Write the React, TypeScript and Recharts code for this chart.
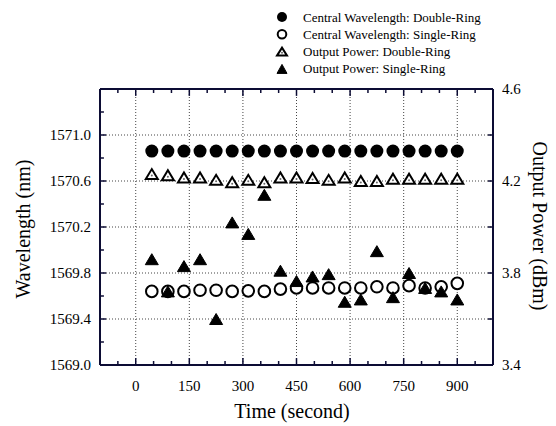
import React from 'react';
import { ComposedChart, Scatter, XAxis, YAxis, ReferenceLine } from 'recharts';

// time stamps (second)
const TIME = [45, 90, 135, 180, 225, 270, 315, 360, 405, 450, 495, 540, 585, 630, 675, 720, 765, 810, 855, 900];

// central wavelength (nm)
const WL_DOUBLE = [1570.86, 1570.86, 1570.86, 1570.86, 1570.86, 1570.86, 1570.86, 1570.86, 1570.86, 1570.86, 1570.86, 1570.86, 1570.86, 1570.86, 1570.86, 1570.86, 1570.86, 1570.86, 1570.86, 1570.86];
const WL_SINGLE = [1569.64, 1569.64, 1569.64, 1569.65, 1569.65, 1569.64, 1569.645, 1569.64, 1569.66, 1569.67, 1569.67, 1569.67, 1569.67, 1569.67, 1569.68, 1569.67, 1569.69, 1569.67, 1569.68, 1569.71];

// output power (dBm)
const PW_DOUBLE = [4.23, 4.225, 4.215, 4.215, 4.205, 4.195, 4.205, 4.195, 4.215, 4.215, 4.213, 4.205, 4.215, 4.2, 4.2, 4.21, 4.21, 4.21, 4.21, 4.21];
const PW_SINGLE = [3.86, 3.72, 3.83, 3.86, 3.6, 4.02, 3.97, 4.14, 3.81, 3.765, 3.785, 3.795, 3.675, 3.685, 3.895, 3.695, 3.8, 3.735, 3.72, 3.685];

// axes
const TIME_DOMAIN = [-100, 1000];
const TIME_TICKS = [-50, 0, 50, 100, 150, 200, 250, 300, 350, 400, 450, 500, 550, 600, 650, 700, 750, 800, 850, 900, 950];
const TIME_LABELS = [0, 150, 300, 450, 600, 750, 900];
const WL_DOMAIN = [1569.0, 1571.4];
const WL_TICKS = [1569.0, 1569.2, 1569.4, 1569.6, 1569.8, 1570.0, 1570.2, 1570.4, 1570.6, 1570.8, 1571.0, 1571.2, 1571.4];
const WL_LABELS = [1569.0, 1569.4, 1569.8, 1570.2, 1570.6, 1571.0];
const PW_DOMAIN = [3.4, 4.6];
const PW_TICKS = [3.4, 3.6, 3.8, 4.0, 4.2, 4.4, 4.6];
const PW_LABELS = [3.4, 3.8, 4.2, 4.6];

// inward tick lengths, in axis units
const XTICK_MAJOR = 0.06;
const XTICK_MINOR = 0.035;
const YTICK_MAJOR = 17;
const YTICK_MINOR = 11;
const RTICK = 14;

const SERIF = '"Liberation Serif", "Times New Roman", serif';
const INK = '#0c0c34';

const toPoints = (vals: number[]) => vals.map((v, i) => ({ t: TIME[i], v }));
const has = (list: number[], v: number) => list.some((l) => Math.abs(l - v) < 1e-6);

// markers
const FilledCircle = ({ cx, cy, r = 6.5 }: any) => <circle cx={cx} cy={cy} r={r} fill="#000" />;
const OpenCircle = ({ cx, cy, r = 5.8 }: any) => (
  <circle cx={cx} cy={cy} r={r} fill="#fff" stroke="#000" strokeWidth={2} />
);
const tri = (cx: number, cy: number, w: number, h: number) =>
  `${cx - w / 2},${cy + h / 2} ${cx + w / 2},${cy + h / 2} ${cx},${cy - h / 2}`;
const OpenTriangle = ({ cx, cy, w = 12, h = 10 }: any) => (
  <g>
    <polygon points={tri(cx, cy, w, h)} fill="#fff" stroke="#000" strokeWidth={2} />
    <circle cx={cx} cy={cy + h * 0.15} r={1} fill="#666" />
  </g>
);
const FilledTriangle = ({ cx, cy, w = 13, h = 11 }: any) => (
  <polygon points={tri(cx, cy, w, h)} fill="#000" stroke="#000" strokeWidth={1} />
);

// tick labels only (tick marks are reference segments below)
const BottomTick = ({ x, y, payload }: any) =>
  has(TIME_LABELS, payload.value) ? (
    <text x={x} y={y + 26} textAnchor="middle" fontSize={15} fontFamily={SERIF} fill="#000">
      {payload.value}
    </text>
  ) : (
    <g />
  );
const LeftTick = ({ x, y, payload }: any) =>
  has(WL_LABELS, payload.value) ? (
    <text x={x - 9} y={y + 5} textAnchor="end" fontSize={15} fontFamily={SERIF} fill="#000">
      {payload.value.toFixed(1)}
    </text>
  ) : (
    <g />
  );
const RightTick = ({ x, y, payload }: any) =>
  has(PW_LABELS, payload.value) ? (
    <text x={x + 9} y={y + 5} textAnchor="start" fontSize={15} fontFamily={SERIF} fill="#000">
      {payload.value.toFixed(1)}
    </text>
  ) : (
    <g />
  );

const LEGEND = [
  { name: 'Central Wavelength: Double-Ring', M: FilledCircle, props: { r: 5 } },
  { name: 'Central Wavelength: Single-Ring', M: OpenCircle, props: { r: 4.3 } },
  { name: 'Output Power: Double-Ring', M: OpenTriangle, props: { w: 10, h: 8 } },
  { name: 'Output Power: Single-Ring', M: FilledTriangle, props: { w: 10, h: 9 } },
];

const axisLine = { stroke: INK, strokeWidth: 2 };
const frame = { stroke: INK, strokeWidth: 2 };
const tickMark = { stroke: INK, strokeWidth: 1.5 };
const grid = { stroke: '#444', strokeDasharray: '1 2', strokeWidth: 1 };

export default function App() {
  const [x0, x1] = TIME_DOMAIN;
  const [w0, w1] = WL_DOMAIN;
  return (
    <div style={{ position: 'absolute', left: 0, top: 0, width: 556, height: 426 }}>
      <ComposedChart width={556} height={426} margin={{ top: 89, right: 0, bottom: 0, left: 0 }}>
        <XAxis
          dataKey="t"
          type="number"
          domain={TIME_DOMAIN}
          ticks={TIME_TICKS}
          interval={0}
          height={61}
          stroke={INK}
          axisLine={axisLine}
          tickLine={false}
          tickSize={0}
          tickMargin={0}
          tick={<BottomTick />}
        />
        <YAxis
          dataKey="v"
          type="number"
          domain={WL_DOMAIN}
          ticks={WL_TICKS}
          interval={0}
          width={100}
          stroke={INK}
          axisLine={axisLine}
          tickLine={false}
          tickSize={0}
          tickMargin={0}
          tick={<LeftTick />}
        />
        <YAxis
          yAxisId="pw"
          orientation="right"
          dataKey="v"
          type="number"
          domain={PW_DOMAIN}
          ticks={PW_TICKS}
          interval={0}
          width={63}
          stroke={INK}
          axisLine={axisLine}
          tickLine={false}
          tickSize={0}
          tickMargin={0}
          tick={<RightTick />}
        />
        {TIME_LABELS.map((t) => (
          <ReferenceLine key={'gx' + t} x={t} {...grid} />
        ))}
        {WL_LABELS.slice(1).map((w) => (
          <ReferenceLine key={'gy' + w} y={w} {...grid} />
        ))}
        {/* inward tick marks on all four sides */}
        {TIME_TICKS.map((t) => (
          <ReferenceLine
            key={'tb' + t}
            segment={[{ x: t, y: w0 }, { x: t, y: w0 + (has(TIME_LABELS, t) ? XTICK_MAJOR : XTICK_MINOR) }]}
            {...tickMark}
          />
        ))}
        {TIME_TICKS.map((t) => (
          <ReferenceLine
            key={'tt' + t}
            segment={[{ x: t, y: w1 }, { x: t, y: w1 - (has(TIME_LABELS, t) ? XTICK_MAJOR : XTICK_MINOR) }]}
            {...tickMark}
          />
        ))}
        {WL_TICKS.map((w) => (
          <ReferenceLine
            key={'tl' + w}
            segment={[{ x: x0, y: w }, { x: x0 + (has(WL_LABELS, w) ? YTICK_MAJOR : YTICK_MINOR), y: w }]}
            {...tickMark}
          />
        ))}
        {PW_TICKS.map((p) => (
          <ReferenceLine key={'tr' + p} yAxisId="pw" segment={[{ x: x1 - RTICK, y: p }, { x: x1, y: p }]} {...tickMark} />
        ))}
        {/* frame */}
        <ReferenceLine x={x0} {...frame} />
        <ReferenceLine x={x1} {...frame} />
        <ReferenceLine y={w0} {...frame} />
        <ReferenceLine y={w1} {...frame} />
        <Scatter data={toPoints(WL_DOUBLE)} shape={<FilledCircle />} isAnimationActive={false} />
        <Scatter data={toPoints(WL_SINGLE)} shape={<OpenCircle />} isAnimationActive={false} />
        <Scatter data={toPoints(PW_DOUBLE)} yAxisId="pw" shape={<OpenTriangle />} isAnimationActive={false} />
        <Scatter data={toPoints(PW_SINGLE)} yAxisId="pw" shape={<FilledTriangle />} isAnimationActive={false} />
        <g>
          {LEGEND.map((l, i) => {
            const y = 17 + i * 17.3;
            const M = l.M;
            return (
              <g key={l.name}>
                <M cx={282} cy={y} {...l.props} />
                <text x={303} y={y + 4.5} fontSize={13} fontFamily={SERIF} fill="#000">
                  {l.name}
                </text>
              </g>
            );
          })}
          <text x={292} y={418} textAnchor="middle" fontSize={20} fontFamily={SERIF} fill="#000">
            Time (second)
          </text>
          <text transform="translate(30,229) rotate(-90)" textAnchor="middle" fontSize={20} fontFamily={SERIF} fill="#000">
            Wavelength (nm)
          </text>
          <text transform="translate(533,226) rotate(90)" textAnchor="middle" fontSize={20} fontFamily={SERIF} fill="#000">
            Output Power (dBm)
          </text>
        </g>
      </ComposedChart>
    </div>
  );
}
